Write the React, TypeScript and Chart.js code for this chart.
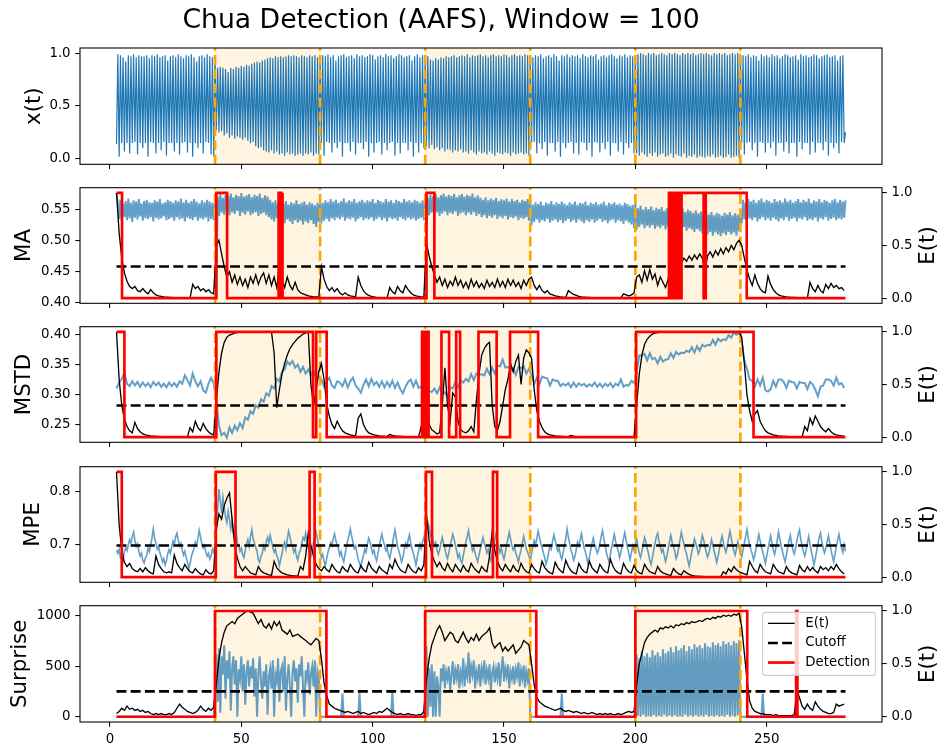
import { useEffect, useRef } from "react";
import { Chart, registerables } from "chart.js";

Chart.register(...registerables);

const FONT = '"DejaVu Sans", sans-serif';
Chart.defaults.font.family = FONT;

// ---------------- time axis ----------------
const T0 = 2.5; // first sample time
const T_END = 280; // last sample time
const X_MIN = -11.4;
const X_MAX = 293.9;
const xTicks = [0, 50, 100, 150, 200, 250];
const eTicks = [0, 0.5, 1];

// anomaly windows (shaded) and their boundaries (orange dashed)
const shadeStart = [40, 120, 200];
const shadeEnd = [80, 160, 240];
const eventTimes = [40, 80, 120, 160, 200, 240];

// ---------------- x(t): one trough (t = T0+i) and one peak (t = T0+i+0.5) per unit ----------------
const xTrough = [
  0.14,0.02,0.15,0.07,0.15,0.05,0.15,0.16,0.04,0.15,0.1,0.15,0.02,0.16,0.15,0.05,0.15,0.08,0.16,0.03,0.15,0.15,0.07,0.15,0.04,0.15,0.16,0.06,0.15,0.02,0.15,0.1,0.15,0.05,0.16,0.15,0.04,0.02,
  0.27,0.25,0.26,0.22,0.24,0.2,0.22,0.19,0.21,0.2,0.18,0.2,0.17,0.15,0.16,0.12,0.1,0.11,0.08,0.07,0.06,0.08,0.05,0.07,0.04,0.05,0.03,0.06,0.04,0.05,0.03,0.04,0.05,0.03,0.05,0.04,0.06,0.03,0.05,0.04,
  0.15,0.03,0.16,0.15,0.06,0.15,0.1,0.16,0.02,0.15,0.15,0.07,0.16,0.04,0.15,0.15,0.09,0.16,0.02,0.15,0.06,0.15,0.16,0.04,0.15,0.08,0.15,0.16,0.03,0.15,0.05,0.15,0.15,0.08,0.16,0.02,0.15,0.06,0.15,0.1,
  0.12,0.1,0.13,0.09,0.11,0.08,0.1,0.07,0.09,0.08,0.06,0.08,0.07,0.09,0.06,0.07,0.05,0.08,0.06,0.04,0.07,0.05,0.06,0.04,0.07,0.05,0.03,0.06,0.05,0.04,0.06,0.05,0.03,0.06,0.04,0.05,0.06,0.04,0.05,0.03,
  0.15,0.16,0.05,0.15,0.09,0.16,0.03,0.15,0.15,0.07,0.16,0.02,0.15,0.1,0.15,0.16,0.05,0.15,0.04,0.16,0.15,0.08,0.15,0.02,0.16,0.15,0.06,0.15,0.09,0.16,0.03,0.15,0.15,0.07,0.16,0.04,0.15,0.1,0.15,0.05,
  0.05,0.03,0.06,0.04,0.02,0.05,0.03,0.06,0.02,0.04,0.05,0.02,0.03,0.05,0.01,0.04,0.03,0.02,0.05,0.01,0.03,0.02,0.04,0.01,0.03,0.02,0.01,0.03,0.02,0.04,0.01,0.02,0.03,0.01,0.02,0.04,0.01,0.02,0.03,0.01,
  0.15,0.04,0.15,0.16,0.08,0.15,0.02,0.16,0.15,0.06,0.15,0.1,0.16,0.03,0.15,0.15,0.07,0.16,0.05,0.15,0.15,0.02,0.16,0.09,0.15,0.15,0.04,0.16,0.06,0.15,0.15,0.08,0.16,0.03,0.15,0.1,0.15,0.05,0.16,0.15,
];
const xPeak = [
  0.99,0.98,0.96,0.92,0.98,0.97,0.99,0.96,0.98,0.97,0.97,0.98,0.95,0.98,0.97,0.99,0.96,0.97,0.98,0.93,0.97,0.98,0.96,0.99,0.97,0.95,0.98,0.97,0.99,0.96,0.92,0.97,0.98,0.96,0.99,0.97,0.96,0.98,
  0.86,0.87,0.86,0.85,0.82,0.86,0.85,0.87,0.86,0.88,0.87,0.89,0.88,0.9,0.91,0.92,0.91,0.93,0.94,0.95,0.96,0.95,0.97,0.96,0.97,0.96,0.97,0.98,0.97,0.98,0.97,0.96,0.98,0.97,0.96,0.98,0.97,0.98,0.96,0.97,
  0.98,0.97,0.99,0.96,0.98,0.93,0.97,0.98,0.99,0.96,0.97,0.98,0.95,0.99,0.97,0.98,0.96,0.97,0.99,0.98,0.94,0.97,0.98,0.96,0.99,0.97,0.98,0.95,0.97,0.99,0.98,0.96,0.97,0.98,0.93,0.97,0.99,0.96,0.98,0.97,
  0.97,0.94,0.93,0.95,0.94,0.96,0.95,0.97,0.96,0.97,0.98,0.96,0.97,0.98,0.97,0.99,0.96,0.98,0.97,0.98,0.99,0.97,0.98,0.96,0.98,0.99,0.97,0.98,0.97,0.99,0.98,0.96,0.98,0.99,0.97,0.98,0.97,0.99,0.98,0.97,
  0.96,0.98,0.97,0.99,0.95,0.97,0.98,0.96,0.99,0.97,0.93,0.98,0.97,0.99,0.96,0.98,0.97,0.98,0.95,0.99,0.97,0.96,0.98,0.97,0.99,0.94,0.97,0.98,0.96,0.98,0.99,0.97,0.95,0.98,0.97,0.99,0.96,0.98,0.97,0.98,
  0.99,1.0,0.99,0.98,1.0,0.99,1.0,0.98,0.99,1.0,0.99,0.98,1.0,0.99,1.0,0.99,0.98,1.0,0.99,1.0,0.99,1.0,0.98,0.99,1.0,0.99,1.0,0.99,0.98,1.0,0.99,1.0,0.99,1.0,0.98,0.99,1.0,0.99,1.0,0.99,
  0.98,0.97,0.99,0.96,0.98,0.97,0.93,0.99,0.97,0.98,0.96,0.99,0.97,0.98,0.95,0.97,0.99,0.98,0.96,0.97,0.98,0.94,0.99,0.97,0.98,0.96,0.97,0.99,0.98,0.95,0.97,0.98,0.99,0.96,0.97,0.98,0.93,0.97,0.98,0.25,
];

// ---------------- MA (moving average): trough / peak per unit ----------------
const maTrough = [
  0.577,0.535,0.531,0.538,0.533,0.536,0.53,0.537,0.534,0.539,0.532,0.536,0.535,0.538,0.531,0.537,0.534,0.536,0.539,0.533,0.535,0.537,0.532,0.538,0.534,0.536,0.531,0.537,0.535,0.533,0.538,0.532,0.536,0.534,0.537,0.531,0.535,0.533,
  0.407,0.54,0.545,0.542,0.547,0.541,0.546,0.543,0.548,0.54,0.545,0.542,0.547,0.541,0.544,0.546,0.54,0.543,0.545,0.541,0.538,0.534,0.531,0.536,0.53,0.533,0.528,0.534,0.531,0.527,0.533,0.529,0.532,0.526,0.531,0.528,0.533,0.527,0.522,0.53,
  0.528,0.532,0.535,0.531,0.536,0.533,0.537,0.534,0.538,0.532,0.536,0.534,0.537,0.531,0.535,0.538,0.533,0.536,0.534,0.537,0.532,0.535,0.538,0.533,0.536,0.531,0.537,0.534,0.536,0.532,0.538,0.535,0.533,0.537,0.534,0.536,0.532,0.535,0.537,0.533,
  0.515,0.541,0.545,0.542,0.546,0.54,0.544,0.547,0.541,0.545,0.543,0.547,0.54,0.544,0.546,0.541,0.545,0.542,0.546,0.54,0.543,0.538,0.541,0.536,0.54,0.537,0.541,0.535,0.539,0.536,0.54,0.534,0.538,0.536,0.539,0.533,0.537,0.535,0.538,0.532,
  0.525,0.53,0.534,0.529,0.533,0.531,0.535,0.529,0.532,0.534,0.53,0.533,0.528,0.532,0.535,0.53,0.533,0.529,0.534,0.531,0.528,0.533,0.53,0.534,0.529,0.532,0.535,0.53,0.533,0.528,0.532,0.534,0.529,0.533,0.531,0.527,0.532,0.529,0.526,0.52,
  0.518,0.522,0.526,0.52,0.524,0.521,0.525,0.519,0.523,0.52,0.524,0.518,0.522,0.52,0.523,0.517,0.521,0.519,0.522,0.516,0.52,0.518,0.514,0.519,0.515,0.512,0.517,0.51,0.514,0.508,0.513,0.51,0.507,0.512,0.509,0.514,0.51,0.513,0.508,0.515,
  0.528,0.534,0.531,0.536,0.533,0.537,0.531,0.535,0.538,0.533,0.536,0.532,0.537,0.534,0.531,0.536,0.533,0.538,0.532,0.535,0.537,0.531,0.536,0.534,0.538,0.532,0.535,0.533,0.537,0.531,0.536,0.534,0.538,0.532,0.535,0.537,0.533,0.536,0.534,0.537,
];
const maPeak = [
  0.562,0.566,0.56,0.564,0.568,0.561,0.565,0.563,0.567,0.56,0.564,0.566,0.562,0.561,0.565,0.563,0.567,0.56,0.562,0.566,0.564,0.561,0.565,0.563,0.568,0.562,0.566,0.561,0.564,0.567,0.563,0.56,0.565,0.562,0.566,0.563,0.561,0.564,
  0.571,0.575,0.569,0.574,0.572,0.576,0.57,0.574,0.572,0.577,0.571,0.573,0.575,0.57,0.574,0.572,0.576,0.569,0.573,0.571,0.566,0.562,0.565,0.559,0.563,0.561,0.564,0.558,0.562,0.56,0.565,0.559,0.561,0.563,0.558,0.562,0.56,0.557,0.561,0.563,
  0.561,0.565,0.562,0.567,0.563,0.566,0.561,0.564,0.568,0.562,0.565,0.563,0.567,0.561,0.564,0.566,0.562,0.565,0.563,0.567,0.561,0.566,0.564,0.562,0.567,0.563,0.565,0.561,0.566,0.564,0.562,0.567,0.563,0.565,0.562,0.566,0.564,0.561,0.565,0.563,
  0.57,0.574,0.571,0.575,0.57,0.573,0.576,0.571,0.574,0.572,0.575,0.57,0.573,0.575,0.571,0.574,0.572,0.576,0.57,0.573,0.569,0.566,0.57,0.565,0.568,0.566,0.569,0.564,0.567,0.565,0.568,0.563,0.567,0.564,0.566,0.562,0.566,0.564,0.567,0.563,
  0.558,0.562,0.559,0.563,0.557,0.561,0.56,0.564,0.558,0.562,0.559,0.563,0.56,0.557,0.562,0.559,0.563,0.558,0.561,0.56,0.563,0.557,0.561,0.559,0.562,0.558,0.56,0.563,0.557,0.561,0.559,0.562,0.558,0.56,0.557,0.561,0.559,0.556,0.558,0.56,
  0.552,0.556,0.55,0.554,0.551,0.555,0.549,0.553,0.551,0.554,0.548,0.552,0.55,0.553,0.547,0.551,0.549,0.552,0.546,0.55,0.548,0.545,0.549,0.544,0.547,0.543,0.548,0.542,0.546,0.541,0.545,0.543,0.54,0.545,0.542,0.546,0.541,0.544,0.542,0.548,
  0.566,0.562,0.567,0.563,0.566,0.561,0.565,0.568,0.562,0.566,0.564,0.561,0.567,0.563,0.565,0.562,0.568,0.563,0.566,0.561,0.564,0.567,0.562,0.566,0.563,0.568,0.561,0.565,0.563,0.567,0.562,0.566,0.564,0.561,0.565,0.567,0.562,0.566,0.563,0.565,
];
const maE = [
  1.0,0.62,0.38,0.24,0.16,0.11,0.09,0.11,0.07,0.06,0.09,0.06,0.04,0.08,0.05,0.03,0.02,0.015,0.01,0.008,0.006,0.005,0.004,0.003,0.003,0.002,0.002,0.002,0.002,0.13,0.09,0.11,0.07,0.09,0.06,0.08,0.05,0.04,
  0.5,0.55,0.42,0.3,0.2,0.25,0.15,0.22,0.13,0.2,0.12,0.18,0.1,0.2,0.14,0.22,0.13,0.2,0.24,0.14,0.22,0.12,0.2,0.1,0.3,0.18,0.1,0.2,0.12,0.08,0.15,0.08,0.05,0.04,0.03,0.02,0.015,0.01,0.01,0.008,
  0.3,0.18,0.11,0.07,0.1,0.06,0.09,0.05,0.03,0.05,0.03,0.02,0.015,0.01,0.2,0.12,0.07,0.04,0.025,0.015,0.01,0.006,0.004,0.003,0.003,0.002,0.1,0.06,0.04,0.11,0.07,0.05,0.12,0.08,0.05,0.03,0.02,0.015,0.01,0.008,
  0.52,0.4,0.3,0.22,0.15,0.2,0.12,0.18,0.1,0.16,0.12,0.2,0.12,0.17,0.1,0.15,0.09,0.18,0.11,0.16,0.1,0.14,0.09,0.17,0.11,0.15,0.1,0.18,0.11,0.16,0.1,0.18,0.12,0.17,0.11,0.15,0.09,0.17,0.12,0.18,
  0.2,0.12,0.08,0.12,0.07,0.05,0.07,0.04,0.03,0.02,0.015,0.01,0.008,0.006,0.07,0.05,0.035,0.025,0.015,0.01,0.008,0.006,0.005,0.004,0.003,0.003,0.002,0.002,0.002,0.002,0.002,0.002,0.002,0.002,0.002,0.04,0.03,0.02,0.03,0.05,
  0.2,0.22,0.15,0.26,0.17,0.27,0.18,0.23,0.12,0.2,0.15,0.1,0.18,0.3,0.35,0.28,0.36,0.33,0.38,0.35,0.4,0.36,0.41,0.37,0.42,0.38,0.27,0.4,0.44,0.39,0.45,0.41,0.47,0.42,0.48,0.44,0.5,0.46,0.52,0.55,
  0.5,0.38,0.27,0.18,0.12,0.22,0.14,0.09,0.06,0.05,0.21,0.13,0.08,0.05,0.03,0.02,0.015,0.01,0.008,0.006,0.005,0.004,0.003,0.003,0.002,0.002,0.15,0.09,0.06,0.12,0.07,0.05,0.13,0.09,0.14,0.1,0.12,0.09,0.1,0.07,
];
const maOnStart = [2.5, 40.5, 64.2, 64.9, 65.5, 120.5, 212.8, 213.6, 214.4, 215.1, 215.8, 216.7, 217.6, 226.8];
const maOnEnd = [4.6, 44.6, 64.6, 65.3, 65.8, 123.5, 213.2, 214.0, 214.7, 215.4, 216.2, 217.1, 226.0, 242.4];

// ---------------- MSTD (one value per unit) ----------------
const mstdVals = [
  0.31,0.32,0.326,0.336,0.318,0.314,0.322,0.315,0.321,0.313,0.32,0.314,0.319,0.312,0.321,0.315,0.32,0.313,0.318,0.312,0.32,0.314,0.319,0.313,0.322,0.318,0.332,0.324,0.315,0.335,0.322,0.314,0.322,0.307,0.303,0.318,0.328,0.318,
  0.29,0.248,0.232,0.236,0.228,0.245,0.236,0.248,0.24,0.252,0.244,0.262,0.258,0.272,0.268,0.282,0.278,0.292,0.288,0.302,0.298,0.314,0.31,0.326,0.322,0.338,0.342,0.355,0.35,0.356,0.345,0.35,0.338,0.346,0.335,0.342,0.332,0.34,0.326,0.33,
  0.325,0.313,0.322,0.328,0.315,0.311,0.322,0.32,0.314,0.325,0.312,0.322,0.328,0.315,0.31,0.303,0.316,0.325,0.314,0.326,0.316,0.321,0.313,0.322,0.312,0.321,0.313,0.323,0.311,0.32,0.309,0.302,0.313,0.321,0.325,0.313,0.323,0.311,0.313,0.302,
  0.298,0.306,0.304,0.31,0.302,0.312,0.3,0.304,0.296,0.312,0.31,0.321,0.312,0.324,0.32,0.326,0.322,0.334,0.324,0.335,0.332,0.334,0.332,0.343,0.334,0.345,0.335,0.348,0.347,0.358,0.345,0.346,0.341,0.344,0.333,0.346,0.344,0.347,0.335,0.343,
  0.333,0.318,0.328,0.317,0.33,0.328,0.327,0.315,0.325,0.323,0.323,0.314,0.318,0.315,0.319,0.312,0.32,0.313,0.319,0.315,0.318,0.313,0.317,0.314,0.32,0.313,0.318,0.312,0.318,0.314,0.319,0.312,0.318,0.315,0.325,0.313,0.316,0.315,0.323,0.319,
  0.338,0.365,0.365,0.368,0.357,0.369,0.359,0.361,0.352,0.363,0.355,0.358,0.359,0.369,0.361,0.371,0.367,0.37,0.369,0.373,0.371,0.379,0.37,0.381,0.373,0.383,0.38,0.383,0.382,0.391,0.383,0.393,0.389,0.392,0.391,0.399,0.395,0.404,0.4,0.403,
  0.388,0.357,0.343,0.325,0.323,0.313,0.325,0.315,0.328,0.307,0.305,0.309,0.323,0.313,0.325,0.325,0.321,0.311,0.323,0.321,0.32,0.31,0.321,0.319,0.319,0.309,0.321,0.317,0.308,0.297,0.313,0.315,0.325,0.325,0.323,0.315,0.328,0.317,0.319,0.311,
];
const mstdE = [
  1.0,0.55,0.3,0.17,0.1,0.06,0.04,0.14,0.08,0.05,0.03,0.02,0.015,0.01,0.008,0.006,0.005,0.004,0.003,0.003,0.002,0.002,0.002,0.002,0.002,0.002,0.002,0.002,0.09,0.05,0.15,0.09,0.06,0.13,0.08,0.05,0.03,0.02,
  0.35,0.62,0.8,0.9,0.95,0.97,0.98,0.99,0.995,1.0,1.0,1.0,1.0,1.0,1.0,1.0,1.0,1.0,1.0,1.0,1.0,1.0,0.8,0.28,0.45,0.6,0.7,0.78,0.84,0.88,0.91,0.94,0.96,0.98,0.99,1.0,0.5,0.3,0.45,0.62,
  0.7,0.55,0.32,0.2,0.12,0.08,0.15,0.1,0.06,0.04,0.03,0.02,0.015,0.012,0.18,0.22,0.12,0.07,0.04,0.03,0.02,0.015,0.01,0.008,0.006,0.005,0.025,0.015,0.01,0.008,0.006,0.005,0.004,0.003,0.003,0.003,0.003,0.003,0.1,0.25,
  0.28,0.12,0.07,0.05,0.03,0.04,0.3,0.66,0.3,0.15,0.42,0.38,0.15,0.07,0.05,0.04,0.06,0.1,0.05,0.35,0.6,0.78,0.84,0.88,0.9,0.3,0.1,0.06,0.15,0.3,0.45,0.55,0.7,0.62,0.72,0.78,0.5,0.75,0.83,0.8,
  0.75,0.45,0.25,0.15,0.09,0.05,0.03,0.02,0.015,0.01,0.008,0.006,0.005,0.004,0.004,0.015,0.008,0.005,0.004,0.003,0.003,0.003,0.002,0.002,0.002,0.002,0.002,0.002,0.002,0.002,0.002,0.002,0.002,0.002,0.002,0.002,0.002,0.002,0.002,0.002,
  0.3,0.6,0.78,0.88,0.93,0.96,0.98,0.99,0.995,1.0,1.0,1.0,1.0,1.0,1.0,1.0,1.0,1.0,1.0,1.0,1.0,1.0,1.0,1.0,1.0,1.0,1.0,1.0,1.0,1.0,1.0,1.0,1.0,1.0,1.0,1.0,1.0,1.0,1.0,1.0,
  0.95,0.7,0.4,0.25,0.15,0.22,0.25,0.15,0.1,0.06,0.04,0.03,0.02,0.015,0.01,0.008,0.006,0.005,0.004,0.003,0.003,0.003,0.003,0.003,0.1,0.06,0.18,0.12,0.2,0.15,0.1,0.07,0.05,0.08,0.05,0.03,0.02,0.015,0.01,0.008,
];
const mstdOnStart = [2.5, 40.5, 78.5, 118.8, 119.8, 120.8, 126.2, 131.8, 140.3, 152.3, 200.3];
const mstdOnEnd = [5.5, 77.3, 82.5, 119.3, 120.4, 121.3, 129.1, 133.3, 147.2, 163.0, 245.0];

// ---------------- MPE (two values per unit, t = T0 + 0.5 i) ----------------
const MPE_STEP = 0.5;
const mpeVals = [
  0.69,0.684,0.692,0.676,0.681,0.672,0.687,0.695,0.689,0.701,0.71,0.703,0.716,0.724,0.708,0.697,0.702,0.688,0.679,0.684,
  0.671,0.666,0.675,0.68,0.694,0.687,0.699,0.713,0.73,0.712,0.704,0.692,0.698,0.685,0.678,0.668,0.674,0.662,0.67,0.683,
  0.691,0.684,0.696,0.707,0.701,0.715,0.722,0.709,0.698,0.703,0.69,0.681,0.688,0.676,0.669,0.655,0.664,0.678,0.686,0.694,
  0.705,0.699,0.712,0.727,0.714,0.702,0.694,0.699,0.687,0.679,0.684,0.673,0.68,0.692,0.686,
  0.7,0.73,0.768,0.805,0.782,0.76,0.79,0.77,0.752,0.742,0.763,0.748,0.73,0.745,0.72,0.712,0.726,0.705,0.698,0.688,
  0.694,0.682,0.676,0.689,0.702,0.71,0.697,0.715,0.729,0.712,0.703,0.695,0.688,0.672,0.667,0.679,0.684,0.698,0.691,0.706,
  0.714,0.703,0.718,0.707,0.695,0.686,0.692,0.68,0.674,0.661,0.672,0.684,0.697,0.705,0.692,0.71,0.726,0.716,0.703,0.697,
  0.686,0.693,0.679,0.671,0.684,0.69,0.702,0.714,0.709,0.722,0.704,0.696,0.685,0.678,0.69,0.704,0.715,0.724,0.71,0.698,
  0.688,0.676,0.682,0.669,0.661,0.674,0.686,0.695,0.704,0.698,0.712,0.721,0.708,0.699,0.692,0.68,0.687,0.675,0.668,0.682,
  0.696,0.709,0.718,0.73,0.717,0.705,0.693,0.698,0.685,0.673,0.666,0.658,0.671,0.68,0.692,0.686,0.701,0.713,0.706,0.694,
  0.684,0.69,0.678,0.67,0.683,0.697,0.71,0.72,0.708,0.7,0.689,0.694,0.682,0.675,0.687,0.699,0.716,0.728,0.712,0.697,
  0.688,0.679,0.668,0.676,0.69,0.703,0.696,0.709,0.719,0.704,0.692,0.684,0.673,0.662,0.677,0.689,0.701,0.693,0.706,0.714,
  0.705,0.728,0.742,0.733,0.718,0.726,0.709,0.698,0.704,0.69,0.682,0.691,0.703,0.714,0.702,0.694,0.681,0.674,0.686,0.697,
  0.709,0.72,0.711,0.699,0.688,0.676,0.683,0.671,0.666,0.68,0.693,0.705,0.716,0.727,0.71,0.701,0.689,0.695,0.684,0.676,
  0.668,0.681,0.692,0.704,0.714,0.703,0.696,0.685,0.691,0.678,0.67,0.684,0.698,0.71,0.722,0.707,0.695,0.686,0.694,0.681,
  0.673,0.686,0.7,0.712,0.724,0.711,0.699,0.691,0.697,0.684,0.677,0.668,0.681,0.69,0.703,0.716,0.705,0.692,0.686,0.679,
  0.671,0.684,0.696,0.708,0.699,0.712,0.726,0.714,0.702,0.695,0.685,0.676,0.664,0.672,0.686,0.698,0.692,0.707,0.719,0.708,
  0.697,0.688,0.694,0.68,0.673,0.685,0.699,0.711,0.73,0.715,0.703,0.69,0.683,0.671,0.678,0.691,0.705,0.698,0.71,0.721,
  0.706,0.694,0.687,0.675,0.664,0.677,0.69,0.702,0.713,0.701,0.693,0.684,0.69,0.702,0.716,0.727,0.711,0.699,0.685,0.676,
  0.668,0.682,0.696,0.708,0.72,0.706,0.697,0.689,0.676,0.686,0.699,0.712,0.723,0.708,0.695,0.684,0.672,0.685,0.698,0.69,
  0.702,0.711,0.696,0.684,0.676,0.688,0.7,0.714,0.706,0.693,0.684,0.671,0.663,0.676,0.69,0.703,0.715,0.722,0.707,0.696,
  0.686,0.692,0.68,0.669,0.678,0.692,0.706,0.718,0.705,0.697,0.688,0.674,0.681,0.695,0.709,0.724,0.712,0.701,0.69,0.683,
  0.67,0.66,0.674,0.687,0.699,0.711,0.703,0.694,0.683,0.69,0.704,0.718,0.709,0.697,0.686,0.677,0.684,0.696,0.71,0.7,
  0.689,0.678,0.667,0.679,0.692,0.706,0.717,0.705,0.694,0.686,0.697,0.712,0.726,0.713,0.7,0.689,0.681,0.693,0.706,0.695,
  0.684,0.677,0.69,0.703,0.716,0.729,0.712,0.7,0.691,0.683,0.672,0.681,0.694,0.706,0.72,0.708,0.696,0.687,0.676,0.665,
  0.679,0.692,0.705,0.717,0.703,0.69,0.682,0.694,0.708,0.724,0.711,0.699,0.688,0.677,0.668,0.681,0.695,0.708,0.718,0.702,
  0.69,0.683,0.694,0.707,0.72,0.728,0.71,0.697,0.687,0.679,0.69,0.704,0.716,0.7,0.688,0.676,0.662,0.674,0.688,0.701,
  0.714,0.722,0.706,0.694,0.685,0.693,0.706,0.717,0.703,0.69,0.679,0.668,0.682,0.696,0.709,0.72,0.706,0.694,0.686,0.7,
  0.688,
];
const mpeE = [
  1.0,0.5,0.25,0.14,0.1,0.13,0.08,0.06,0.05,0.08,0.05,0.09,0.06,0.04,0.03,0.2,0.12,0.08,0.05,0.04,0.05,0.04,0.21,0.13,0.09,0.06,0.12,0.08,0.05,0.04,0.08,0.05,0.03,0.02,0.07,0.04,0.03,0.06,
  0.45,0.6,0.55,0.68,0.75,0.8,0.55,0.3,0.18,0.1,0.06,0.1,0.07,0.04,0.03,0.02,0.1,0.06,0.04,0.03,0.02,0.015,0.15,0.09,0.06,0.04,0.03,0.02,0.015,0.01,0.01,0.008,0.1,0.07,0.2,0.42,0.3,0.2,0.12,0.08,
  0.06,0.1,0.07,0.05,0.12,0.08,0.05,0.04,0.1,0.07,0.05,0.12,0.08,0.05,0.04,0.11,0.07,0.05,0.14,0.09,0.06,0.04,0.1,0.07,0.05,0.03,0.12,0.08,0.17,0.11,0.07,0.05,0.04,0.12,0.08,0.05,0.04,0.09,0.06,0.12,
  0.59,0.35,0.22,0.15,0.1,0.14,0.09,0.06,0.13,0.08,0.05,0.12,0.08,0.05,0.11,0.07,0.05,0.13,0.09,0.06,0.04,0.1,0.07,0.05,0.2,0.43,0.25,0.15,0.09,0.06,0.12,0.08,0.05,0.11,0.07,0.05,0.13,0.08,0.05,0.04,
  0.12,0.08,0.05,0.04,0.15,0.09,0.06,0.04,0.03,0.14,0.09,0.06,0.04,0.16,0.1,0.06,0.04,0.03,0.13,0.08,0.05,0.04,0.15,0.09,0.06,0.04,0.12,0.08,0.05,0.04,0.17,0.1,0.06,0.04,0.03,0.13,0.08,0.05,0.04,0.11,
  0.06,0.04,0.03,0.12,0.08,0.05,0.04,0.03,0.1,0.06,0.04,0.03,0.02,0.015,0.08,0.05,0.03,0.02,0.06,0.04,0.025,0.015,0.01,0.008,0.006,0.005,0.004,0.003,0.003,0.003,0.003,0.003,0.003,0.05,0.03,0.08,0.05,0.1,0.07,0.05,
  0.04,0.03,0.02,0.15,0.1,0.06,0.04,0.12,0.08,0.05,0.04,0.03,0.12,0.08,0.05,0.04,0.03,0.1,0.06,0.04,0.03,0.02,0.11,0.07,0.05,0.1,0.06,0.09,0.06,0.04,0.1,0.07,0.09,0.06,0.1,0.07,0.12,0.08,0.05,0.03,
];
const mpeOnStart = [2.5, 40.3, 76.0, 120.3, 145.8];
const mpeOnEnd = [4.5, 47.8, 77.9, 122.6, 147.4];

// ---------------- Surprise: half-unit samples inside the three windows, isolated spikes elsewhere ----------------
const SUR_STEP = 0.5;
const surWinStart = [40, 120, 200];
const surWin1 = [
  300,620,150,680,40,600,420,710,180,560, 380,650,60,480,600,320,560,0,470,380,
  600,250,520,120,440,560,300,500,380,580, 200,480,0,420,600,350,180,450,300,520,
  20,400,480,280,560,0,420,350,580,150, 450,500,250,600,60,380,520,300,0,450,
  560,350,480,140,520,400,600,300,0,460, 380,540,220,420,500,300,560,0,450,380,
];
const surWin2 = [
  200,700,0,480,100,520,0,450,0,400, 300,0,480,350,520,280,450,380,500,250,
  420,550,320,460,380,520,280,440,360,580, 300,470,400,640,330,500,420,560,280,450,
  380,520,300,480,400,560,320,460,380,520, 260,440,500,340,470,380,540,300,460,600,
  350,480,400,520,280,450,380,500,320,470, 400,540,300,460,380,510,290,450,370,480,
];
const surWin3 = [
  100,620,10,580,0,650,20,600,0,630, 5,590,0,660,15,610,0,640,10,600,
  0,670,20,630,0,650,10,690,0,640, 15,700,0,660,5,680,0,710,20,650,
  0,700,10,670,0,720,15,690,0,710, 10,680,0,730,20,700,0,690,10,740,
  0,710,15,730,0,700,10,750,0,720, 20,740,0,710,10,750,0,730,15,760,
];
const surSpikeT = [88.5, 95, 107.5, 172, 248.5];
const surSpikeV = [230, 235, 250, 230, 230];
const surE = [
  0.03,0.05,0.08,0.06,0.1,0.07,0.08,0.06,0.07,0.05,0.06,0.04,0.05,0.03,0.02,0.03,0.02,0.03,0.02,0.02,0.03,0.02,0.04,0.08,0.12,0.09,0.07,0.05,0.04,0.03,0.04,0.06,0.1,0.07,0.05,0.08,0.06,0.09,
  0.3,0.55,0.7,0.8,0.86,0.88,0.9,0.88,0.93,0.95,0.97,0.99,1.0,0.99,0.98,0.93,0.88,0.92,0.86,0.84,0.88,0.83,0.9,0.86,0.9,0.82,0.8,0.78,0.82,0.76,0.77,0.78,0.76,0.74,0.72,0.7,0.68,0.71,0.74,0.72,
  0.55,0.32,0.2,0.12,0.1,0.08,0.07,0.06,0.05,0.04,0.05,0.04,0.03,0.04,0.05,0.03,0.04,0.03,0.02,0.03,0.04,0.03,0.05,0.04,0.06,0.08,0.06,0.04,0.03,0.02,0.03,0.02,0.02,0.03,0.02,0.02,0.01,0.02,0.02,0.05,
  0.35,0.55,0.68,0.75,0.82,0.86,0.8,0.72,0.76,0.8,0.78,0.72,0.7,0.75,0.8,0.74,0.7,0.75,0.72,0.78,0.72,0.76,0.78,0.8,0.84,0.7,0.65,0.68,0.7,0.62,0.66,0.62,0.65,0.68,0.6,0.63,0.66,0.72,0.7,0.68,
  0.5,0.3,0.18,0.14,0.12,0.1,0.09,0.08,0.07,0.06,0.07,0.08,0.06,0.05,0.06,0.05,0.04,0.05,0.04,0.03,0.04,0.03,0.03,0.04,0.03,0.02,0.03,0.02,0.03,0.02,0.03,0.02,0.02,0.03,0.02,0.03,0.04,0.05,0.04,0.05,
  0.3,0.5,0.6,0.7,0.75,0.78,0.8,0.82,0.8,0.84,0.83,0.85,0.84,0.86,0.84,0.87,0.86,0.88,0.87,0.89,0.88,0.9,0.89,0.9,0.91,0.9,0.92,0.93,0.92,0.94,0.93,0.95,0.94,0.96,0.95,0.96,0.95,0.97,0.96,0.98,
  0.85,0.6,0.35,0.15,0.08,0.05,0.04,0.03,0.03,0.02,0.02,0.02,0.01,0.02,0.01,0.01,0.01,0.01,0.01,0.01,0.02,0.25,0.18,0.1,0.07,0.12,0.08,0.06,0.14,0.1,0.07,0.05,0.04,0.03,0.03,0.04,0.12,0.1,0.11,0.12,
];
const surOnStart = [40.0, 120.0, 200.0, 261.2];
const surOnEnd = [82.4, 162.3, 242.6, 261.7];

// cutoff on the E(t) axis for each detector panel
const cutoffs = [0.3, 0.3, 0.3, 0.24];
const legendLabels = ["E(t)", "Cutoff", "Detection"];

// ---------------- layout / style ----------------
const W = 943;
const PLOT_LEFT = 80;
const PLOT_RIGHT = 882;
const PLOT_H = 117;
const panelTop = [48, 187, 326, 466, 605];
const TICK_FS = 13.33;
const LABEL_FS = 21.33;
const BLUE = "#1f77b4";
const BLUE_A = "rgba(31,119,180,0.7)";
const DASH = [9.9, 4.3];

// ---------------- builders ----------------
function oscPoints(tr: number[], pk: number[]) {
  const n = Math.min(tr.length, pk.length);
  const pts: any[] = [];
  for (let i = 0; i < n; i++) {
    pts.push({ x: T0 + i, y: tr[i] });
    pts.push({ x: T0 + i + 0.5, y: pk[i] });
  }
  return pts;
}
function seriesPoints(vals: number[], step: number) {
  return vals.map((v, i) => ({ x: T0 + i * step, y: v }));
}
function stepPoints(starts: number[], ends: number[]) {
  const pts: any[] = [];
  const startsHigh = starts[0] <= T0;
  pts.push({ x: T0, y: startsHigh ? 1 : 0 });
  for (let k = 0; k < starts.length; k++) {
    const s = starts[k];
    const e = ends[k];
    if (!(k === 0 && startsHigh)) {
      pts.push({ x: s, y: 0 });
      pts.push({ x: s, y: 1 });
    }
    pts.push({ x: e, y: 1 });
    pts.push({ x: e, y: 0 });
  }
  pts.push({ x: T_END, y: 0 });
  return pts;
}
function surprisePoints() {
  const wins = [surWin1, surWin2, surWin3];
  const n = Math.round((T_END - T0) / SUR_STEP);
  const pts: any[] = [];
  for (let i = 0; i <= n; i++) {
    const t = T0 + i * SUR_STEP;
    let v = 0;
    for (let w = 0; w < wins.length; w++) {
      const j = Math.round((t - surWinStart[w]) / SUR_STEP);
      if (j >= 0 && j < wins[w].length) v = wins[w][j];
    }
    const s = surSpikeT.indexOf(t);
    if (s >= 0) v = surSpikeV[s];
    pts.push({ x: t, y: v });
  }
  return pts;
}
function vLines(lo: number, hi: number) {
  const pts: any[] = [];
  eventTimes.forEach((t) => {
    pts.push({ x: t, y: lo });
    pts.push({ x: t, y: hi });
    pts.push({ x: t, y: null });
  });
  return pts;
}
function lineDs(data: any[], color: string, width: number, yAxisID: string, order: number, dash?: number[]) {
  return {
    type: "line",
    data,
    borderColor: color,
    backgroundColor: color,
    borderWidth: width,
    borderDash: dash || [],
    pointRadius: 0,
    pointHoverRadius: 0,
    tension: 0,
    fill: false,
    spanGaps: false,
    yAxisID,
    xAxisID: "x",
    order,
  };
}

// ---------------- plugins ----------------
const shadePlugin = {
  id: "shade",
  beforeDatasetsDraw(chart: any) {
    const { ctx, chartArea: a, scales } = chart;
    ctx.save();
    ctx.fillStyle = "rgba(255,165,0,0.12)";
    for (let i = 0; i < shadeStart.length; i++) {
      const x0 = scales.x.getPixelForValue(shadeStart[i]);
      const x1 = scales.x.getPixelForValue(shadeEnd[i]);
      ctx.fillRect(x0, a.top, x1 - x0, a.bottom - a.top);
    }
    ctx.restore();
  },
};
const framePlugin = {
  id: "frame",
  afterDatasetsDraw(chart: any) {
    const { ctx, chartArea: a } = chart;
    ctx.save();
    ctx.strokeStyle = "#000";
    ctx.lineWidth = 1.07;
    ctx.strokeRect(a.left, a.top, a.right - a.left, a.bottom - a.top);
    ctx.restore();
  },
};
function rightLabelPlugin(text: string) {
  return {
    id: "rightLabel",
    afterDraw(chart: any) {
      const { ctx, chartArea: a } = chart;
      ctx.save();
      ctx.translate(928, (a.top + a.bottom) / 2);
      ctx.rotate(-Math.PI / 2);
      ctx.font = `${LABEL_FS}px ${FONT}`;
      ctx.fillStyle = "#000";
      ctx.textAlign = "center";
      ctx.textBaseline = "middle";
      ctx.fillText(text, 0, 0);
      ctx.restore();
    },
  };
}
const legendPlugin = {
  id: "boxLegend",
  afterDraw(chart: any) {
    const { ctx, chartArea: a } = chart;
    const fs = 13.33;
    ctx.save();
    ctx.font = `${fs}px ${FONT}`;
    const textW = Math.max(...legendLabels.map((l) => ctx.measureText(l).width));
    const pad = 0.4 * fs;
    const handle = 2 * fs;
    const htp = 0.8 * fs;
    const w = pad + handle + htp + textW + pad;
    const h = 63;
    const right = a.right - 0.5 * fs;
    const top = a.top + 0.5 * fs;
    const left = right - w;
    ctx.beginPath();
    ctx.roundRect(left, top, w, h, 2.7);
    ctx.fillStyle = "rgba(255,255,255,0.8)";
    ctx.fill();
    ctx.strokeStyle = "#cccccc";
    ctx.lineWidth = 1.07;
    ctx.stroke();
    const styles = [
      { color: "#000", width: 1.33, dash: [] as number[] },
      { color: "#000", width: 2.67, dash: DASH },
      { color: "#ff0000", width: 2.67, dash: [] as number[] },
    ];
    legendLabels.forEach((lab, r) => {
      const y = top + 11 + r * 19.6;
      const st = styles[r];
      ctx.beginPath();
      ctx.setLineDash(st.dash);
      ctx.strokeStyle = st.color;
      ctx.lineWidth = st.width;
      ctx.moveTo(left + pad, y);
      ctx.lineTo(left + pad + handle, y);
      ctx.stroke();
      ctx.setLineDash([]);
      ctx.fillStyle = "#000";
      ctx.textAlign = "left";
      ctx.textBaseline = "middle";
      ctx.fillText(lab, left + pad + handle + htp, y);
    });
    ctx.restore();
  },
};

// ---------------- scales ----------------
const gridOpts = { display: true, drawOnChartArea: false, drawTicks: true, tickLength: 4.7, color: "#000", lineWidth: 1.07 };
function xScale(showLabels: boolean) {
  return {
    type: "linear",
    min: X_MIN,
    max: X_MAX,
    bounds: "data",
    afterBuildTicks: (s: any) => {
      s.ticks = xTicks.map((v) => ({ value: v }));
    },
    ticks: {
      autoSkip: false,
      maxRotation: 0,
      padding: 4.7,
      color: "#000",
      font: { family: FONT, size: TICK_FS },
      callback: (v: any) => (showLabels ? String(v) : ""),
    },
    grid: gridOpts,
    border: { display: false },
    afterFit: (s: any) => {
      s.height = showLabels ? 30 : 12;
    },
  };
}
function yLeft(min: number, max: number, ticks: number[], dec: number, label: string, labelPad: number) {
  return {
    type: "linear",
    position: "left",
    min,
    max,
    bounds: "data",
    afterBuildTicks: (s: any) => {
      s.ticks = ticks.map((v) => ({ value: v }));
    },
    ticks: {
      autoSkip: false,
      padding: 4.7,
      color: "#000",
      font: { family: FONT, size: TICK_FS },
      callback: (v: any) => Number(v).toFixed(dec),
    },
    grid: gridOpts,
    border: { display: false },
    title: {
      display: true,
      text: label,
      color: "#000",
      font: { family: FONT, size: LABEL_FS, lineHeight: 1.2 },
      padding: { top: labelPad, bottom: 0 },
    },
    afterFit: (s: any) => {
      s.width = PLOT_LEFT;
    },
  };
}
function yRight() {
  return {
    type: "linear",
    position: "right",
    min: -0.05,
    max: 1.05,
    bounds: "data",
    afterBuildTicks: (s: any) => {
      s.ticks = eTicks.map((v) => ({ value: v }));
    },
    ticks: {
      autoSkip: false,
      padding: 4.7,
      color: "#000",
      font: { family: FONT, size: TICK_FS },
      callback: (v: any) => Number(v).toFixed(1),
    },
    grid: gridOpts,
    border: { display: false },
    afterFit: (s: any) => {
      s.width = W - PLOT_RIGHT;
    },
  };
}

// ---------------- panel definitions ----------------
const leftAxes = [
  { min: -0.052, max: 1.048, ticks: [0, 0.5, 1.0], dec: 1, label: "x(t)", pad: 21.5 },
  { min: 0.3985, max: 0.5855, ticks: [0.4, 0.45, 0.5, 0.55], dec: 2, label: "MA", pad: 12 },
  { min: 0.2202, max: 0.4132, ticks: [0.25, 0.3, 0.35, 0.4], dec: 2, label: "MSTD", pad: 12 },
  { min: 0.6296, max: 0.8469, ticks: [0.7, 0.8], dec: 1, label: "MPE", pad: 20.5 },
  { min: -52.5, max: 1102.5, ticks: [0, 500, 1000], dec: 0, label: "Surprise", pad: 7.5 },
];

function canvasBox(k: number) {
  if (k === 0) return { top: 0, h: panelTop[0] + PLOT_H + 12 };
  return { top: panelTop[k] - 12, h: 12 + PLOT_H + (k === 4 ? 30 : 12) };
}

function makeConfig(k: number): any {
  const la = leftAxes[k];
  const scales: any = { x: xScale(k === 4), y: yLeft(la.min, la.max, la.ticks, la.dec, la.label, la.pad) };
  const plugins: any[] = [shadePlugin, framePlugin];
  let datasets: any[] = [];
  const vl = lineDs(vLines(la.min, la.max), "#FFA500", 2.67, "y", 5, DASH);
  if (k === 0) {
    datasets = [lineDs(oscPoints(xTrough, xPeak), BLUE, 1.2, "y", 6), vl];
  } else {
    scales.y2 = yRight();
    plugins.push(rightLabelPlugin("E(t)"));
    let blue: any[] = [];
    let e: number[] = [];
    let on: number[][] = [];
    if (k === 1) {
      blue = oscPoints(maTrough, maPeak);
      e = maE;
      on = [maOnStart, maOnEnd];
    } else if (k === 2) {
      blue = seriesPoints(mstdVals, 1);
      e = mstdE;
      on = [mstdOnStart, mstdOnEnd];
    } else if (k === 3) {
      blue = seriesPoints(mpeVals, MPE_STEP);
      e = mpeE;
      on = [mpeOnStart, mpeOnEnd];
    } else {
      blue = surprisePoints();
      e = surE;
      on = [surOnStart, surOnEnd];
      plugins.push(legendPlugin);
    }
    const c = cutoffs[k - 1];
    datasets = [
      lineDs(blue, BLUE_A, k === 3 ? 1.6 : 2, "y", 6),
      vl,
      lineDs(seriesPoints(e, 1), "#000000", 1.33, "y2", 3),
      lineDs([{ x: T0, y: c }, { x: T_END, y: c }], "#000000", 2.67, "y2", 2, DASH),
      lineDs(stepPoints(on[0], on[1]), "#ff0000", 2.67, "y2", 1),
    ];
  }
  const titleOpts =
    k === 0
      ? {
          display: true,
          text: "Chua Detection (AAFS), Window = 100",
          color: "#000",
          font: { family: FONT, size: 26.67, weight: "normal", lineHeight: 1.2 },
          padding: { top: 4.8, bottom: 11.2 },
        }
      : { display: false };
  return {
    type: "line",
    data: { datasets },
    options: {
      animation: false,
      responsive: false,
      maintainAspectRatio: false,
      devicePixelRatio: 1,
      events: [],
      parsing: true,
      layout: { padding: { top: k === 0 ? 0 : 12, right: k === 0 ? W - PLOT_RIGHT : 0, bottom: 0, left: 0 } },
      plugins: { legend: { display: false }, tooltip: { enabled: false }, title: titleOpts },
      scales,
    },
    plugins,
  };
}

export default function App() {
  const refs = useRef<(HTMLCanvasElement | null)[]>([]);
  useEffect(() => {
    const charts = [0, 1, 2, 3, 4].map((k) => new Chart(refs.current[k] as HTMLCanvasElement, makeConfig(k)));
    return () => charts.forEach((c) => c.destroy());
  }, []);
  return (
    <div style={{ position: "absolute", left: 0, top: 0, width: W, height: 747, background: "#fff", overflow: "hidden" }}>
      {[0, 1, 2, 3, 4].map((k) => {
        const b = canvasBox(k);
        return (
          <canvas
            key={k}
            ref={(el) => {
              refs.current[k] = el;
            }}
            width={W}
            height={b.h}
            style={{ position: "absolute", left: 0, top: b.top, width: W, height: b.h }}
          />
        );
      })}
    </div>
  );
}
